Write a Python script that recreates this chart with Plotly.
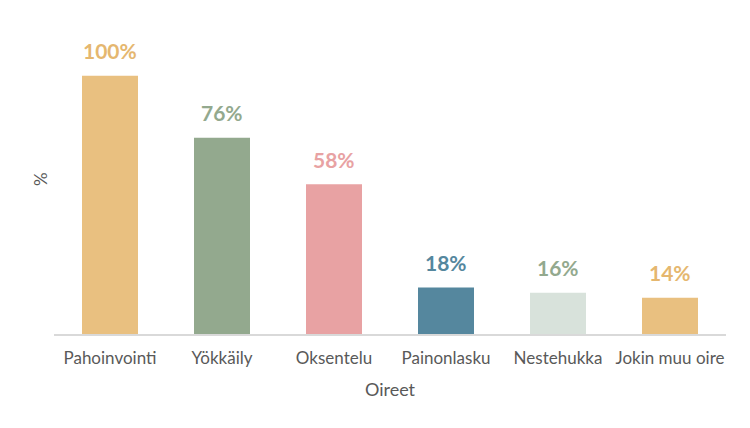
import plotly.graph_objects as go

categories = ["Pahoinvointi", "Yökkäily", "Oksentelu", "Painonlasku", "Nestehukka", "Jokin muu oire"]
values = [1.00, 0.76, 0.58, 0.18, 0.16, 0.14]
value_labels = ["100%", "76%", "58%", "18%", "16%", "14%"]
bar_colors = ["#E9C080", "#93A98E", "#E8A2A3", "#55879E", "#D8E2DB", "#E9C080"]
label_colors = ["#E5B76F", "#93A98E", "#E8A2A3", "#55879E", "#93A98E", "#E5B76F"]

FONT = "Lato"

fig = go.Figure(
    go.Bar(
        x=categories,
        y=values,
        marker=dict(color=bar_colors, line=dict(width=0)),
        width=0.5,
        hoverinfo="skip",
    )
)

for c, v, t, col in zip(categories, values, value_labels, label_colors):
    fig.add_annotation(
        x=c, y=v, text=f"<b>{t}</b>", showarrow=False,
        yanchor="middle", yshift=25,
        font=dict(family=FONT, size=21, color=col),
    )

fig.add_annotation(
    xref="paper", yref="paper", x=-14 / 672, y=0.5, text="%",
    textangle=-90, showarrow=False, xanchor="center", yanchor="middle",
    font=dict(family=FONT, size=17, color="#595959"),
)

fig.update_layout(
    width=742, height=420,
    margin=dict(l=46, r=24, t=16, b=94),
    paper_bgcolor="white", plot_bgcolor="white",
    showlegend=False,
    font=dict(family=FONT, color="#595959"),
    xaxis=dict(
        showline=True, linecolor="#D9D9D9", linewidth=2,
        ticks="", showgrid=False, zeroline=False,
        ticklabelstandoff=8,
        tickfont=dict(family=FONT, size=17, color="#595959"),
        title=dict(text="Oireet", font=dict(family=FONT, size=18, color="#595959"), standoff=16),
    ),
    yaxis=dict(
        range=[0, 1.2], showticklabels=False, showgrid=False,
        zeroline=False, showline=False, ticks="",
    ),
)

fig.write_html("out.html")
